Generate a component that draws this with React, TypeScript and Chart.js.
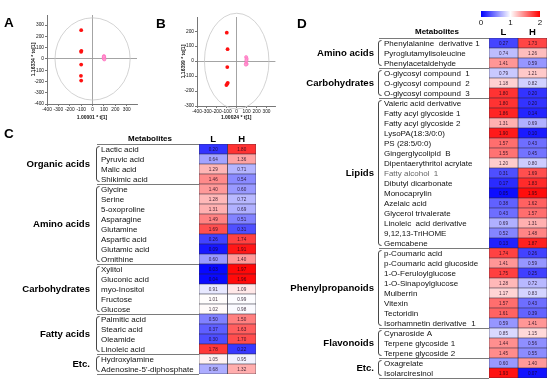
import React, { useEffect, useRef } from "react";
import { Chart, registerables } from "chart.js";
Chart.register(...registerables);

const FF = '"Liberation Sans", Arial, Helvetica, sans-serif';

// ---------- Panel A: score plot ----------
const aRedPts = [
  { x: -100, y: 255 }, { x: -98, y: 72 }, { x: -101, y: 64 },
  { x: -100, y: -50 }, { x: -102, y: -150 }, { x: -100, y: -192 },
];
const aPinkPts = [
  { x: 100, y: 25 }, { x: 102, y: 16 }, { x: 98, y: 9 },
  { x: 100, y: 2 }, { x: 103, y: -4 }, { x: 99, y: 19 },
];
const aEllipse = { rx: 330, ry: 365 };
const aXTitle = "1.00001 * t[1]";
const aYTitle = "1.16334 * to[1]";
const aTicks = [-400, -300, -200, -100, 0, 100, 200, 300];

// ---------- Panel B: score plot ----------
const bRedPts = [
  { x: -100, y: 190 }, { x: -92, y: 80 }, { x: -95, y: -40 },
  { x: -90, y: -145 }, { x: -95, y: -152 }, { x: -104, y: -160 },
];
const bPinkPts = [
  { x: 95, y: 27 }, { x: 100, y: 16 }, { x: 98, y: 6 },
  { x: 95, y: -14 }, { x: 100, y: -20 }, { x: 92, y: -23 },
];
const bEllipse = { rx: 325, ry: 320 };
const bXTitle = "1.00024 * t[1]";
const bYTitle = "1.16399 * to[1]";
const bXTicks = [-400, -300, -200, -100, 0, 100, 200, 300];
const bYTicks = [-300, -200, -100, 0, 100, 200];

// ---------- Heatmap columns ----------
const columns = ["L", "H"];

// ---------- Panel C ----------
const cGroupNames = ["Organic acids", "Amino acids", "Carbohydrates", "Fatty acids", "Etc."];
const cGroupSizes = [4, 8, 5, 4, 2];
const cMetabolites = [
  "Lactic acid", "Pyruvic acid", "Malic acid", "Shikimic acid",
  "Glycine", "Serine", "5-oxoproline", "Asparagine", "Glutamine", "Aspartic acid", "Glutamic acid", "Ornithine",
  "Xylitol", "Gluconic acid", "myo-Inositol", "Fructose", "Glucose",
  "Palmitic acid", "Stearic acid", "Oleamide", "Linoleic acid",
  "Hydroxylamine", "Adenosine-5'-diphosphate",
];
const cL = [0.20, 0.64, 1.29, 1.46, 1.40, 1.28, 1.31, 1.49, 1.69, 0.26, 0.09, 0.60, 0.03, 0.04, 0.91, 1.01, 1.02, 0.50, 0.37, 0.30, 1.78, 1.05, 0.68];
const cH = [1.80, 1.36, 0.71, 0.54, 0.60, 0.72, 0.69, 0.51, 0.31, 1.74, 1.91, 1.40, 1.97, 1.96, 1.09, 0.99, 0.98, 1.50, 1.63, 1.70, 0.22, 0.95, 1.32];

// ---------- Panel D ----------
const dGroupNames = ["Amino acids", "Carbohydrates", "Lipids", "Phenylpropanoids", "Flavonoids", "Etc."];
const dGroupSizes = [3, 3, 15, 8, 3, 2];
const dMetabolites = [
  "Phenylalanine  derivative 1", "Pyroglutamylisoleucine", "Phenylacetaldehyde",
  "O-glycosyl compound  1", "O-glycosyl compound  2", "O-glycosyl compound  3",
  "Valeric acid derivative", "Fatty acyl glycoside 1", "Fatty acyl glycoside 2", "LysoPA(18:3/0:0)",
  "PS (28:5/0:0)", "Gingerglycolipid  B", "Dipentaerythritol acrylate", "Fatty alcohol  1",
  "Dibutyl dicarbonate", "Monocaprylin", "Azelaic acid", "Glycerol trivalerate",
  "Linoleic  acid derivative", "9,12,13-TriHOME", "Gemcabene",
  "p-Coumaric acid", "p-Coumaric acid glucoside", "1-O-Feruloylglucose", "1-O-Sinapoylglucose",
  "Mulberrin", "Vitexin", "Tectoridin", "Isorhamnetin derivative  1",
  "Cynaroside A", "Terpene glycoside 1", "Terpene glycoside 2",
  "Oxagrelate", "Isolarciresinol",
];
const dL = [0.27, 0.74, 1.41, 0.79, 1.18, 1.80, 1.80, 1.86, 1.31, 1.90, 1.57, 1.55, 1.20, 0.31, 0.17, 0.05, 0.38, 0.43, 0.69, 0.52, 0.13, 1.74, 1.41, 1.75, 1.28, 1.17, 1.57, 1.61, 0.59, 0.85, 1.44, 1.45, 0.60, 1.93];
const dH = [1.73, 1.26, 0.59, 1.21, 0.82, 0.20, 0.20, 0.14, 0.69, 0.10, 0.43, 0.45, 0.80, 1.69, 1.83, 1.95, 1.62, 1.57, 1.31, 1.48, 1.87, 0.26, 0.59, 0.25, 0.72, 0.83, 0.43, 0.39, 1.41, 1.15, 0.56, 0.55, 1.40, 0.07];
const dFaded = ["Fatty alcohol  1"];

// ---------- Colour scale ----------
const scaleMin = 0;
const scaleMid = 1;
const scaleMax = 2;
const scaleTicks = [0, 1, 2];

function heatColor(v: number): string {
  const t = Math.max(scaleMin, Math.min(scaleMax, v));
  if (t <= scaleMid) {
    const c = Math.round(255 * (t - scaleMin) / (scaleMid - scaleMin));
    return `rgb(${c},${c},255)`;
  }
  const c = Math.round(255 * (scaleMax - t) / (scaleMax - scaleMid));
  return `rgb(255,${c},${c})`;
}

function panelLetter(text: string, x: number, y: number) {
  return {
    id: "panelLetter",
    afterDraw(chart: any) {
      const ctx = chart.ctx;
      ctx.save();
      ctx.font = `bold 13.5px ${FF}`;
      ctx.fillStyle = "#000";
      ctx.textAlign = "left";
      ctx.textBaseline = "middle";
      ctx.fillText(text, x, y);
      ctx.restore();
    },
  };
}

function ellipsePlugin(rx: number, ry: number) {
  return {
    id: "hotelling",
    beforeDatasetsDraw(chart: any) {
      const { ctx, scales } = chart;
      const x = scales.x, y = scales.y;
      const cx = x.getPixelForValue(0), cy = y.getPixelForValue(0);
      const prx = Math.abs(x.getPixelForValue(rx) - cx);
      const pry = Math.abs(y.getPixelForValue(ry) - cy);
      ctx.save();
      ctx.strokeStyle = "#c8c8c8";
      ctx.lineWidth = 0.8;
      ctx.beginPath();
      ctx.ellipse(cx, cy, prx, pry, 0, 0, Math.PI * 2);
      ctx.stroke();
      ctx.restore();
    },
  };
}

function makeScatter(canvas: HTMLCanvasElement, p: any) {
  const axis = (title: string, min: number, max: number, tickVals: number[], isX: boolean) => ({
    type: "linear",
    min,
    max,
    bounds: "data",
    afterBuildTicks: (s: any) => {
      s.ticks = tickVals.map((v) => ({ value: v }));
    },
    ticks: {
      autoSkip: false,
      maxRotation: 0,
      padding: 1,
      color: "#111",
      font: { size: 4.8, family: FF },
    },
    grid: {
      color: (c: any) => (c.tick && c.tick.value === 0 ? "#9a9a9a" : "rgba(0,0,0,0)"),
      tickColor: "#666",
      tickLength: 2,
      lineWidth: 0.9,
    },
    border: { color: "#777", width: 1 },
    title: {
      display: true,
      text: title,
      color: "#111",
      font: { size: 5, family: FF, weight: "bold" },
      padding: isX ? { top: 0, bottom: 1 } : { top: 3, bottom: 0 },
    },
    afterFit: (s: any) => {
      if (isX) s.height = p.xAxisH;
      else s.width = p.yAxisW;
    },
  });
  return new Chart(canvas, {
    type: "scatter",
    data: {
      datasets: [
        { data: p.red, backgroundColor: "#ff1010", borderColor: "#ff1010", pointRadius: 1.9, borderWidth: 0 },
        { data: p.pink, backgroundColor: "#ff9ad0", borderColor: "#ff6fbf", pointRadius: 1.6, borderWidth: 0.6 },
      ],
    },
    options: {
      responsive: false,
      animation: false,
      events: [],
      layout: { padding: p.padding },
      plugins: { legend: { display: false }, tooltip: { enabled: false } },
      scales: {
        x: axis(p.xTitle, p.xMin, p.xMax, p.xTicks, true),
        y: axis(p.yTitle, p.yMin, p.yMax, p.yTicks, false),
      },
    } as any,
    plugins: [ellipsePlugin(p.ellipse.rx, p.ellipse.ry), panelLetter(p.letter, p.letterX, p.letterY)],
  } as any);
}

function heatPlugin(cfg: any) {
  return {
    id: "heatText",
    afterDatasetsDraw(chart: any) {
      const { ctx, scales, chartArea: ca } = chart;
      const x = scales.x, y = scales.y;
      const n = cfg.names.length;
      const rowH = (ca.bottom - ca.top) / n;
      ctx.save();
      // cell values
      ctx.font = `4.6px ${FF}`;
      ctx.textAlign = "center";
      ctx.textBaseline = "middle";
      ctx.fillStyle = "rgba(20,0,20,0.8)";
      [cfg.lv, cfg.hv].forEach((vals: number[], di: number) => {
        const meta = chart.getDatasetMeta(di);
        meta.data.forEach((el: any, i: number) => {
          ctx.fillText(vals[i].toFixed(2), (el.x + el.base) / 2, el.y + 0.3);
        });
      });
      // metabolite names
      ctx.font = `8px ${FF}`;
      ctx.textAlign = "left";
      cfg.names.forEach((nm: string, i: number) => {
        ctx.fillStyle = cfg.faded.includes(nm) ? "#666" : "#111";
        ctx.fillText(nm, cfg.nameX, y.getPixelForValue(i) + 0.5);
      });
      // groups, brackets, separators
      let start = 0;
      const bx = cfg.bracketX;
      cfg.groupSizes.forEach((sz: number, g: number) => {
        const y0 = y.getPixelForValue(start) - rowH / 2;
        const y1 = y.getPixelForValue(start + sz - 1) + rowH / 2;
        ctx.font = `bold 9.6px ${FF}`;
        ctx.textAlign = "right";
        ctx.fillStyle = "#000";
        ctx.fillText(cfg.groupNames[g], cfg.groupX, (y0 + y1) / 2 + 0.5);
        ctx.strokeStyle = "#333";
        ctx.lineWidth = 0.9;
        ctx.beginPath();
        ctx.moveTo(bx + 3, y0 + 2.5);
        ctx.quadraticCurveTo(bx, y0 + 2.5, bx, y0 + 5);
        ctx.lineTo(bx, y1 - 5);
        ctx.quadraticCurveTo(bx, y1 - 2.5, bx + 3, y1 - 2.5);
        ctx.stroke();
        ctx.strokeStyle = "#7a7a7a";
        ctx.lineWidth = 1;
        [y0, y1].forEach((yy) => {
          const py = Math.round(yy) + 0.5;
          ctx.beginPath();
          ctx.moveTo(cfg.lineX, py);
          ctx.lineTo(ca.left, py);
          ctx.stroke();
        });
        start += sz;
      });
      // header
      ctx.fillStyle = "#000";
      ctx.textAlign = "center";
      ctx.font = `bold 8px ${FF}`;
      ctx.fillText("Metabolites", cfg.headerX, cfg.headerY);
      ctx.font = `bold 9.5px ${FF}`;
      columns.forEach((c, ci) => {
        ctx.fillText(c, x.getPixelForValue(ci + 0.5), cfg.headerY);
      });
      ctx.restore();
    },
  };
}

function makeHeatmap(canvas: HTMLCanvasElement, cfg: any) {
  const ds = [cfg.lv, cfg.hv].map((vals: number[], ci: number) => ({
    label: columns[ci],
    data: vals.map(() => [ci, ci + 1]),
    backgroundColor: vals.map(heatColor),
    borderColor: "#262636",
    borderWidth: 0.6,
    borderSkipped: false,
    grouped: false,
    barPercentage: 1,
    categoryPercentage: 1,
  }));
  return new Chart(canvas, {
    type: "bar",
    data: { labels: cfg.names, datasets: ds },
    options: {
      indexAxis: "y",
      responsive: false,
      animation: false,
      events: [],
      layout: { padding: cfg.padding },
      plugins: { legend: { display: false }, tooltip: { enabled: false } },
      scales: {
        x: { type: "linear", min: 0, max: columns.length, display: false },
        y: { type: "category", display: false },
      },
    } as any,
    plugins: [heatPlugin(cfg), panelLetter(cfg.letter, cfg.letterX, cfg.letterY)],
  } as any);
}

function makeColorbar(canvas: HTMLCanvasElement) {
  return new Chart(canvas, {
    type: "bar",
    data: {
      labels: [""],
      datasets: [
        {
          data: [[scaleMin, scaleMax]],
          backgroundColor: (c: any) => {
            const ca = c.chart.chartArea;
            if (!ca) return "#fff";
            const g = c.chart.ctx.createLinearGradient(ca.left, 0, ca.right, 0);
            g.addColorStop(0, heatColor(scaleMin));
            g.addColorStop(0.5, heatColor(scaleMid));
            g.addColorStop(1, heatColor(scaleMax));
            return g;
          },
          borderWidth: 0,
          barPercentage: 1,
          categoryPercentage: 1,
        },
      ],
    },
    options: {
      indexAxis: "y",
      responsive: false,
      animation: false,
      events: [],
      layout: { padding: { left: 11, right: 10, top: 7, bottom: 0 } },
      plugins: { legend: { display: false }, tooltip: { enabled: false } },
      scales: {
        x: {
          type: "linear",
          min: scaleMin,
          max: scaleMax,
          bounds: "data",
          afterBuildTicks: (s: any) => {
            s.ticks = scaleTicks.map((v) => ({ value: v }));
          },
          ticks: { color: "#111", font: { size: 8, family: FF }, padding: 1, autoSkip: false, maxRotation: 0 },
          grid: { display: false, drawTicks: false },
          border: { display: false },
          afterFit: (s: any) => {
            s.height = 13;
          },
        },
        y: { type: "category", display: false },
      },
    } as any,
  } as any);
}

export default function App() {
  const aRef = useRef<HTMLCanvasElement>(null);
  const bRef = useRef<HTMLCanvasElement>(null);
  const cRef = useRef<HTMLCanvasElement>(null);
  const dRef = useRef<HTMLCanvasElement>(null);
  const barRef = useRef<HTMLCanvasElement>(null);

  useEffect(() => {
    const charts: Chart[] = [];
    charts.push(
      makeScatter(aRef.current!, {
        red: aRedPts, pink: aPinkPts, ellipse: aEllipse,
        xTitle: aXTitle, yTitle: aYTitle, xTicks: aTicks, yTicks: aTicks,
        xMin: -400, xMax: 390, yMin: -400, yMax: 390,
        padding: { left: 28, top: 15, right: 8, bottom: 0 },
        xAxisH: 18, yAxisW: 19,
        letter: "A", letterX: 4, letterY: 23,
      })
    );
    charts.push(
      makeScatter(bRef.current!, {
        red: bRedPts, pink: bPinkPts, ellipse: bEllipse,
        xTitle: bXTitle, yTitle: bYTitle, xTicks: bXTicks, yTicks: bYTicks,
        xMin: -400, xMax: 390, yMin: -300, yMax: 295,
        padding: { left: 28, top: 17, right: 3, bottom: 0 },
        xAxisH: 16, yAxisW: 19,
        letter: "B", letterX: 6, letterY: 24.5,
      })
    );
    charts.push(
      makeHeatmap(cRef.current!, {
        names: cMetabolites, lv: cL, hv: cH,
        groupNames: cGroupNames, groupSizes: cGroupSizes, faded: [],
        padding: { left: 199, right: 24, top: 29, bottom: 8 },
        nameX: 101, groupX: 90, bracketX: 96.5, lineX: 97,
        headerX: 150, headerY: 24,
        letter: "C", letterX: 4, letterY: 19.5,
      })
    );
    charts.push(
      makeHeatmap(dRef.current!, {
        names: dMetabolites, lv: dL, hv: dH,
        groupNames: dGroupNames, groupSizes: dGroupSizes, faded: dFaded,
        padding: { left: 209, right: 3, top: 38, bottom: 4 },
        nameX: 104, groupX: 94, bracketX: 98.5, lineX: 99,
        headerX: 157, headerY: 32,
        letter: "D", letterX: 17, letterY: 24,
      })
    );
    charts.push(makeColorbar(barRef.current!));
    return () => charts.forEach((c) => c.destroy());
  }, []);

  const abs = (l: number, t: number): React.CSSProperties => ({ position: "absolute", left: l, top: t });
  return (
    <div style={{ position: "fixed", left: 0, top: 0, width: 550, height: 382, background: "#fff", overflow: "hidden" }}>
      <canvas ref={aRef} width={145} height={122} style={abs(0, 0)} />
      <canvas ref={bRef} width={130} height={122} style={abs(150, 0)} />
      <canvas ref={cRef} width={280} height={267} style={abs(0, 115)} />
      <canvas ref={dRef} width={270} height={382} style={abs(280, 0)} />
      <canvas ref={barRef} width={80} height={26} style={abs(470, 4)} />
    </div>
  );
}
